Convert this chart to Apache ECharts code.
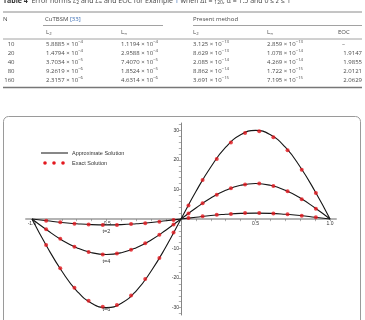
<!DOCTYPE html>
<html>
<head>
<meta charset="utf-8">
<script src="https://cdn.jsdelivr.net/npm/echarts@6/dist/echarts.min.js"></script>
<style>
  html, body { margin: 0; padding: 0; background: #fff; }
  #main { width: 365px; height: 320px; }
</style>
</head>
<body>
<div id="main"></div>
<script>
// table data
var nVals = ['10', '20', '40', '80', '160'];
var cuL2 = ['5.8885e-4', '1.4794e-4', '3.7034e-5', '9.2619e-6', '2.3157e-6'];
var cuLinf = ['1.1194e-4', '2.9588e-4', '7.4070e-5', '1.8524e-5', '4.6314e-6'];
var prL2 = ['3.125e-13', '8.629e-13', '2.085e-14', '8.862e-14', '3.691e-15'];
var prLinf = ['2.859e-13', '1.078e-14', '4.269e-14', '1.722e-15', '7.195e-15'];
var eocVals = ['\u2013', '1.9147', '1.9855', '2.0121', '2.0629'];

// approximate solution (curves)
var xLine = [-1, -0.9, -0.8, -0.7, -0.6, -0.5, -0.4, -0.3, -0.2, -0.1, 0,
             0.1, 0.2, 0.3, 0.4, 0.5, 0.6, 0.7, 0.8, 0.9, 1];
var approxT2 = [0, -0.6, -1.2, -1.6, -1.9, -2, -1.9, -1.6, -1.2, -0.6, 0,
                0.6, 1.2, 1.6, 1.9, 2, 1.9, 1.6, 1.2, 0.6, 0];
var approxT4 = [0, -3.7, -7.1, -9.7, -11.4, -12, -11.4, -9.7, -7.1, -3.7, 0,
                3.7, 7.1, 9.7, 11.4, 12, 11.4, 9.7, 7.1, 3.7, 0];
var approxT6 = [0, -9.3, -17.6, -24.3, -28.5, -30, -28.5, -24.3, -17.6, -9.3, 0,
                9.3, 17.6, 24.3, 28.5, 30, 28.5, 24.3, 17.6, 9.3, 0];

// exact solution (dots)
var xExact = [-0.905, -0.81, -0.715, -0.62, -0.525, -0.43, -0.335, -0.24, -0.145, -0.05,
              0.05, 0.145, 0.24, 0.335, 0.43, 0.525, 0.62, 0.715, 0.81, 0.905];
var exactT2 = [-0.6, -1.1, -1.6, -1.9, -2, -2, -1.7, -1.4, -0.9, -0.3,
               0.3, 0.9, 1.4, 1.7, 2, 2, 1.9, 1.6, 1.1, 0.6];
var exactT4 = [-3.5, -6.7, -9.4, -11.2, -12, -11.7, -10.4, -8.2, -5.3, -1.9,
               1.9, 5.3, 8.2, 10.4, 11.7, 12, 11.2, 9.4, 6.7, 3.5];
var exactT6 = [-8.8, -16.7, -23.3, -27.7, -29.7, -29.1, -25.9, -20.3, -13.2, -4.6,
               4.6, 13.2, 20.3, 25.9, 29.1, 29.7, 27.7, 23.3, 16.7, 8.8];

var curveLabels = [['t=2', -0.5, -4.1], ['t=4', -0.5, -14.5], ['t=6', -0.5, -30.8]];

var xLabels = [-1, -0.5, 0.5, 1];
var xTicks = [-1, -0.9, -0.8, -0.7, -0.6, -0.5, -0.4, -0.3, -0.2, -0.1,
              0.1, 0.2, 0.3, 0.4, 0.5, 0.6, 0.7, 0.8, 0.9, 1];
var yLabels = [-30, -20, -10, 10, 20, 30];
var yTicks = [-32, -30, -28, -26, -24, -22, -20, -18, -16, -14, -12, -10, -8, -6, -4, -2,
              2, 4, 6, 8, 10, 12, 14, 16, 18, 20, 22, 24, 26, 28, 30, 32];

function pairs(xs, ys) {
    return xs.map(function (x, i) { return [x, ys[i]]; });
}

function sci(s) {
    var p = s.split('e');
    return p[0] + ' \u00d7 10{sup|' + p[1].replace('-', '\u2212') + '}';
}

var tFont = '"Open Sans", "DejaVu Sans", sans-serif';
var tColor = '#4a4a4a';

function tText(x, y, text, align) {
    return {
        type: 'text', x: x, y: y, silent: true,
        style: {
            text: text, fontSize: 6, fontFamily: tFont, fill: tColor,
            align: align || 'left', verticalAlign: 'middle', lineHeight: 8,
            rich: {
                sup: {fontSize: 4.3, lineHeight: 4, verticalAlign: 'top', fontFamily: tFont, fill: tColor},
                sub: {fontSize: 4.3, lineHeight: 4, verticalAlign: 'bottom', fill: tColor, fontFamily: tFont},
                ref: {fontSize: 6, fill: '#3b6db4', fontFamily: tFont}
            }
        }
    };
}

function rule(x1, x2, y, w, c) {
    return {
        type: 'line', silent: true,
        shape: {x1: x1, y1: y, x2: x2, y2: y},
        style: {stroke: c || '#8a8a8a', lineWidth: w || 1}
    };
}

var graphics = [];
// caption (top cut off)
graphics.push({
    type: 'text', x: 3, y: 1, silent: true,
    style: {
        text: '{b|Table 4}  Error norms {i|L}{s|2} and {i|L}{s|\u221e} and EOC for Example {ref|1} when \u0394{i|t} = {s|120}, \u03b1 = 1.5 and 0 \u2264 {i|z} \u2264 1',
        fontSize: 7, fontFamily: tFont, fill: '#444', verticalAlign: 'middle', lineHeight: 9,
        rich: {
            b: {fontSize: 7, fontWeight: 'bold', fontFamily: tFont, fill: '#333'},
            i: {fontSize: 7, fontStyle: 'italic', fontFamily: tFont, fill: '#444'},
            s: {fontSize: 5, lineHeight: 4, verticalAlign: 'bottom', fontFamily: tFont, fill: '#444'},
            ref: {fontSize: 7, fill: '#3b6db4', fontFamily: tFont}
        }
    }
});
graphics.push(rule(3, 362, 12, 1, '#8a8a8a'));
graphics.push(tText(3, 19, 'N'));
graphics.push(tText(45, 19, 'CuTBSM {ref|[33]}'));
graphics.push(tText(193, 19, 'Present method'));
graphics.push(rule(43, 163, 25.5, 0.8, '#8a8a8a'));
graphics.push(rule(193, 362, 25.5, 0.8, '#8a8a8a'));
graphics.push(tText(46, 32, 'L{sub|2}'));
graphics.push(tText(121, 32, 'L{sub|\u221e}'));
graphics.push(tText(193, 32, 'L{sub|2}'));
graphics.push(tText(267, 32, 'L{sub|\u221e}'));
graphics.push(tText(338, 32, 'EOC'));
graphics.push(rule(3, 362, 39, 0.8, '#8a8a8a'));
nVals.forEach(function (n, i) {
    var y = 44 + i * 9;
    graphics.push(tText(14.5, y, n, 'right'));
    graphics.push(tText(46, y, sci(cuL2[i])));
    graphics.push(tText(121, y, sci(cuLinf[i])));
    graphics.push(tText(193, y, sci(prL2[i])));
    graphics.push(tText(267, y, sci(prLinf[i])));
    graphics.push(tText(i === 0 ? 342 : 362, y, eocVals[i], i === 0 ? 'left' : 'right'));
});
graphics.push(rule(3, 362, 87.5, 1.3, '#777'));

// figure frame
graphics.push({
    type: 'rect', silent: true,
    shape: {x: 3.5, y: 116.5, width: 357, height: 240, r: 5},
    style: {fill: 'none', stroke: '#9a9a9a', lineWidth: 1}
});

// legend
var legFont = '"Liberation Sans", Arial, sans-serif';
graphics.push({type: 'line', silent: true, shape: {x1: 41, y1: 153, x2: 68, y2: 153}, style: {stroke: '#111', lineWidth: 1}});
graphics.push({type: 'text', x: 72, y: 153, silent: true,
    style: {text: 'Approximate Solution', fontSize: 5.5, fontFamily: legFont, fill: '#333', verticalAlign: 'middle'}});
[45, 54, 63].forEach(function (cx) {
    graphics.push({type: 'circle', silent: true, shape: {cx: cx, cy: 163, r: 1.8}, style: {fill: '#e3181e'}});
});
graphics.push({type: 'text', x: 72, y: 163, silent: true,
    style: {text: 'Exact Solution', fontSize: 5.5, fontFamily: legFont, fill: '#333', verticalAlign: 'middle'}});

function lineSeries(data, label) {
    return {
        type: 'line', data: pairs(xLine, data), smooth: true, symbol: 'none',
        lineStyle: {color: '#151515', width: 1.1}, z: 3,
        markPoint: {
            symbol: 'circle', symbolSize: 0, silent: true,
            label: {show: true, formatter: label[0], fontSize: 5.5, color: '#333', fontFamily: legFont},
            data: [{coord: [label[1], label[2]]}]
        }
    };
}

function dotSeries(data) {
    return {
        type: 'scatter', data: pairs(xExact, data), symbolSize: 4,
        itemStyle: {color: '#e3181e'}, z: 4
    };
}

// plot area: x -1.04..1.04 over 310px, y -32.5..32.5 over 192px
var gridLeft = 26, gridWidth = 310, gridTop = 123, gridHeight = 192;
var xMin = -1.04, xMax = 1.04, yMin = -32.5, yMax = 32.5;
// axes cross at the origin
var yAxisOffset = -gridWidth * (0 - xMin) / (xMax - xMin);
var xAxisOffset = -gridHeight * (0 - yMin) / (yMax - yMin);

var option = {
    animation: false,
    backgroundColor: '#fff',
    grid: {left: gridLeft, width: gridWidth, top: gridTop, height: gridHeight},
    xAxis: {
        type: 'value', min: xMin, max: xMax, position: 'bottom', offset: xAxisOffset,
        axisLine: {onZero: false, lineStyle: {color: '#b4b4b4', width: 2}},
        axisTick: {show: true, length: 2.2, customValues: xTicks, lineStyle: {color: '#777', width: 0.6}},
        axisLabel: {customValues: xLabels, margin: 2, formatter: function (v) { return v.toFixed(1); },
            fontSize: 5, color: '#333', fontFamily: legFont},
        splitLine: {show: false}
    },
    yAxis: {
        type: 'value', min: yMin, max: yMax, position: 'left', offset: yAxisOffset,
        axisLine: {onZero: false, lineStyle: {color: '#666', width: 0.8}},
        axisTick: {show: true, length: 2.2, customValues: yTicks, lineStyle: {color: '#777', width: 0.6}},
        axisLabel: {customValues: yLabels, margin: 2, fontSize: 5, color: '#333', fontFamily: legFont},
        splitLine: {show: false}
    },
    series: [
        lineSeries(approxT2, curveLabels[0]),
        lineSeries(approxT4, curveLabels[1]),
        lineSeries(approxT6, curveLabels[2]),
        dotSeries(exactT2),
        dotSeries(exactT4),
        dotSeries(exactT6)
    ],
    graphic: graphics
};

var myChart = echarts.init(document.getElementById('main'));
myChart.setOption(option);
</script>
</body>
</html>
